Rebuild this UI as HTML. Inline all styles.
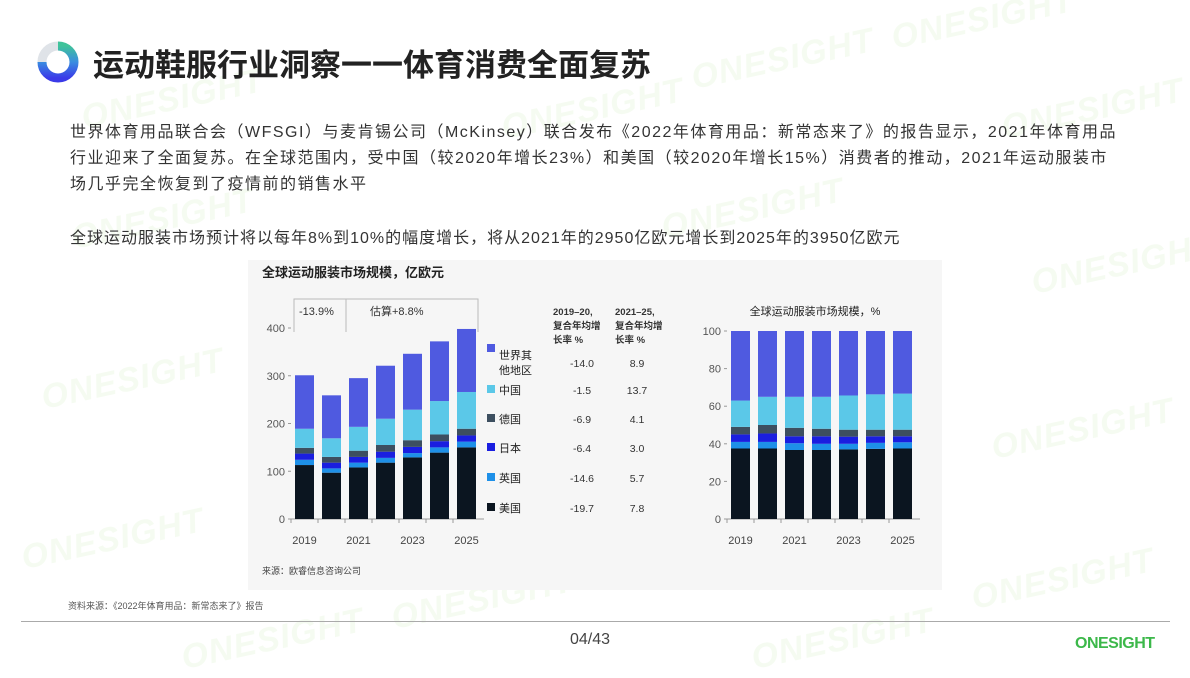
<!DOCTYPE html>
<html><head><meta charset="utf-8">
<style>
body{margin:0;width:1190px;height:669px;background:#fff;position:relative;overflow:hidden;font-family:"Liberation Sans","Noto Sans CJK SC",sans-serif;}
.abs{position:absolute;white-space:nowrap;}
.wm{position:absolute;font-weight:bold;font-style:italic;font-size:34px;color:rgba(190,225,160,0.15);transform:rotate(-12deg);letter-spacing:1px;}
p{margin:0}
</style></head><body>
<div class="wm" style="left:890px;top:0px">ONESIGHT</div>
<div class="wm" style="left:690px;top:40px">ONESIGHT</div>
<div class="wm" style="left:80px;top:80px">ONESIGHT</div>
<div class="wm" style="left:500px;top:90px">ONESIGHT</div>
<div class="wm" style="left:1000px;top:90px">ONESIGHT</div>
<div class="wm" style="left:70px;top:200px">ONESIGHT</div>
<div class="wm" style="left:660px;top:190px">ONESIGHT</div>
<div class="wm" style="left:1030px;top:245px">ONESIGHT</div>
<div class="wm" style="left:40px;top:360px">ONESIGHT</div>
<div class="wm" style="left:990px;top:410px">ONESIGHT</div>
<div class="wm" style="left:20px;top:520px">ONESIGHT</div>
<div class="wm" style="left:590px;top:530px">ONESIGHT</div>
<div class="wm" style="left:970px;top:560px">ONESIGHT</div>
<div class="wm" style="left:390px;top:580px">ONESIGHT</div>
<div class="wm" style="left:180px;top:620px">ONESIGHT</div>
<div class="wm" style="left:750px;top:620px">ONESIGHT</div>

<svg class="abs" style="left:36px;top:40px" width="44" height="44">
<defs><linearGradient id="lg" x1="0" y1="0" x2="0" y2="1"><stop offset="0" stop-color="#3fc39a"/><stop offset="0.5" stop-color="#3a8de0"/><stop offset="1" stop-color="#3a3ae8"/></linearGradient></defs>
<circle cx="22" cy="22" r="16" fill="none" stroke="#dfe3e8" stroke-width="9"/>
<path d="M22 6 A16 16 0 1 1 6 22" fill="none" stroke="url(#lg)" stroke-width="9"/>
</svg>
<div class="abs" style="left:93px;top:40px;font-size:31px;font-weight:bold;color:#222">运动鞋服行业洞察一一体育消费全面复苏</div>

<div class="abs" style="left:70px;top:120px;font-size:16px;line-height:26px;color:#333;letter-spacing:1.5px">世界体育用品联合会（WFSGI）与麦肯锡公司（McKinsey）联合发布《2022年体育用品：新常态来了》的报告显示，2021年体育用品<br>行业迎来了全面复苏。在全球范围内，受中国（较2020年增长23%）和美国（较2020年增长15%）消费者的推动，2021年运动服装市<br>场几乎完全恢复到了疫情前的销售水平</div>
<div class="abs" style="left:70px;top:226px;font-size:16px;line-height:26px;color:#333;letter-spacing:1px">全球运动服装市场预计将以每年8%到10%的幅度增长，将从2021年的2950亿欧元增长到2025年的3950亿欧元</div>

<div class="abs" style="left:248px;top:260px;width:694px;height:330px;background:#f6f6f6"></div>
<svg id="chart" class="abs" style="left:0;top:0" width="1190" height="669" font-family="Liberation Sans, Noto Sans CJK SC, sans-serif"></svg>

<div class="abs" style="left:68px;top:599px;font-size:9px;color:#555">资料来源：《2022年体育用品：新常态来了》报告</div>
<div class="abs" style="left:21px;top:621px;width:1149px;height:1px;background:#aaa"></div>
<div class="abs" style="left:570px;top:631px;font-size:16px;color:#444">04/43</div>
<div class="abs" style="left:1075px;top:635px;font-size:16px;font-weight:bold;color:#3cb84a;letter-spacing:-0.5px">ONESIGHT</div>

<script>
const years=["2019","2020","2021","2022","2023","2024","2025"];
const xLabels=["2019","","2021","","2023","","2025"];
const segNames=["美国","英国","日本","德国","中国","世界其他地区"];
const segColors=["#0b1520","#1e90e8","#1a1ee0","#3d4f60","#5bc8e8","#4f5ae0"];
// left chart: values in 亿欧元 (x10) per segment
const usVal=[113,97,108,118,129,139,150];
const ukVal=[11,9,10,10,9,11,12];
const jpVal=[13,12,12,13,13,13,13];
const deVal=[12,12,13,14,14,14,14];
const cnVal=[40,39,50,55,64,70,77];
const rowVal=[112,90,102,111,117,125,132];
const leftTicks=[0,100,200,300,400];
// right chart: share %
const usPct=[37.5,37.5,36.7,36.7,37,37.3,37.5];
const ukPct=[3.5,3.5,3.6,3.3,3,3.2,3.3];
const jpPct=[4,4.5,3.7,4,3.8,3.5,3.2];
const dePct=[4,4.5,4.5,4,3.7,3.5,3.5];
const cnPct=[14,15,16.5,17,18.2,18.8,19.2];
const rowPct=[37,35,35,35,34.3,33.7,33.3];
const rightTicks=[0,20,40,60,80,100];
const cagr1=["-14.0","-1.5","-6.9","-6.4","-14.6","-19.7"];
const cagr2=["8.9","13.7","4.1","3.0","5.7","7.8"];

const svg=document.getElementById('chart');
const NS="http://www.w3.org/2000/svg";
function mk(tag,attrs,txt){const e=document.createElementNS(NS,tag);for(const k in attrs)e.setAttribute(k,attrs[k]);if(txt!==undefined)e.textContent=txt;svg.appendChild(e);return e;}

function drawChart(opt,series,ticks,prefix){
  const y=v=>opt.y0-(v/opt.max)*(opt.y0-opt.yTop);
  const x=i=>opt.x0+i*opt.step;
  let ax=mk('line',{x1:opt.axX,y1:opt.y0,x2:opt.axX+opt.step*7+4,y2:opt.y0,stroke:'#999','stroke-width':1});
  
  ticks.forEach(t=>{
    let tl=mk('text',{x:opt.axX-6,y:y(t)+4,'font-size':11,fill:'#555','text-anchor':'end'},String(t));
    
    mk('line',{x1:opt.axX-3,y1:y(t),x2:opt.axX,y2:y(t),stroke:'#999'});
  });
  for(let i=0;i<years.length;i++){
    let cum=0;
    series.forEach((s,si)=>{
      const v=s[i];
      let r=mk('rect',{x:x(i),y:y(cum+v),width:opt.bw,height:y(cum)-y(cum+v),fill:segColors[si]});
      
      
      cum+=v;
    });
    mk('line',{x1:x(i)-4,y1:opt.y0,x2:x(i)-4,y2:opt.y0+4,stroke:'#999'});
    if(xLabels[i]){let xl=mk('text',{x:x(i)+opt.bw/2,y:opt.y0+25,'font-size':11,fill:'#444','text-anchor':'middle'},xLabels[i]);
      }
  }
}
drawChart({x0:295,step:27,bw:19,y0:519,yTop:328,max:400,axX:291},[usVal,ukVal,jpVal,deVal,cnVal,rowVal],leftTicks,'left');
drawChart({x0:731,step:27,bw:19,y0:519,yTop:331,max:100,axX:727},[usPct,ukPct,jpPct,dePct,cnPct,rowPct],rightTicks,'right');

let t1=mk('text',{x:262,y:277,'font-size':13,'font-weight':'bold',fill:'#222'},'全球运动服装市场规模，亿欧元');

let t2=mk('text',{x:815,y:315,'font-size':11,fill:'#222','text-anchor':'middle'},'全球运动服装市场规模，%');

mk('path',{d:'M294 332 V299 H478 V332 M346 299 V332',fill:'none',stroke:'#bbb'});
let b1=mk('text',{x:299,y:315,'font-size':11,fill:'#333'},'-13.9%');

let b2=mk('text',{x:370,y:315,'font-size':11,fill:'#333'},'估算+8.8%');


[['2019–20,','复合年均增','长率 %'],['2021–25,','复合年均增','长率 %']].forEach((h,ci)=>{
  h.forEach((s,li)=>{let e=mk('text',{x:553+ci*62,y:315+li*14,'font-size':9.5,'font-weight':'bold',fill:'#333'},s);
    });
});
const legY=[360,396,425,454,484,514];
const legIdx=[5,4,3,2,1,0];
legIdx.forEach((si,k)=>{
  const yy=legY[k];
  let sq=mk('rect',{x:487,y:yy-11+(k===0?-5:0),width:8,height:8,fill:segColors[si]});
  
  if(k===0){
    mk('text',{x:499,y:359,'font-size':11,fill:'#222'},'世界其');
    let e=mk('text',{x:499,y:374,'font-size':11,fill:'#222'},'他地区');
    
  } else {
    let e=mk('text',{x:499,y:yy-2,'font-size':11,fill:'#222'},segNames[si]);
    
  }
  let c1=mk('text',{x:582,y:(k===0?369:yy)-2,'font-size':10.5,fill:'#333','text-anchor':'middle'},cagr1[k]);
  
  let c2=mk('text',{x:637,y:(k===0?369:yy)-2,'font-size':10.5,fill:'#333','text-anchor':'middle'},cagr2[k]);
  
});
let src=mk('text',{x:262,y:574,'font-size':9,fill:'#444'},'来源：欧睿信息咨询公司');

</script>
</body></html>
